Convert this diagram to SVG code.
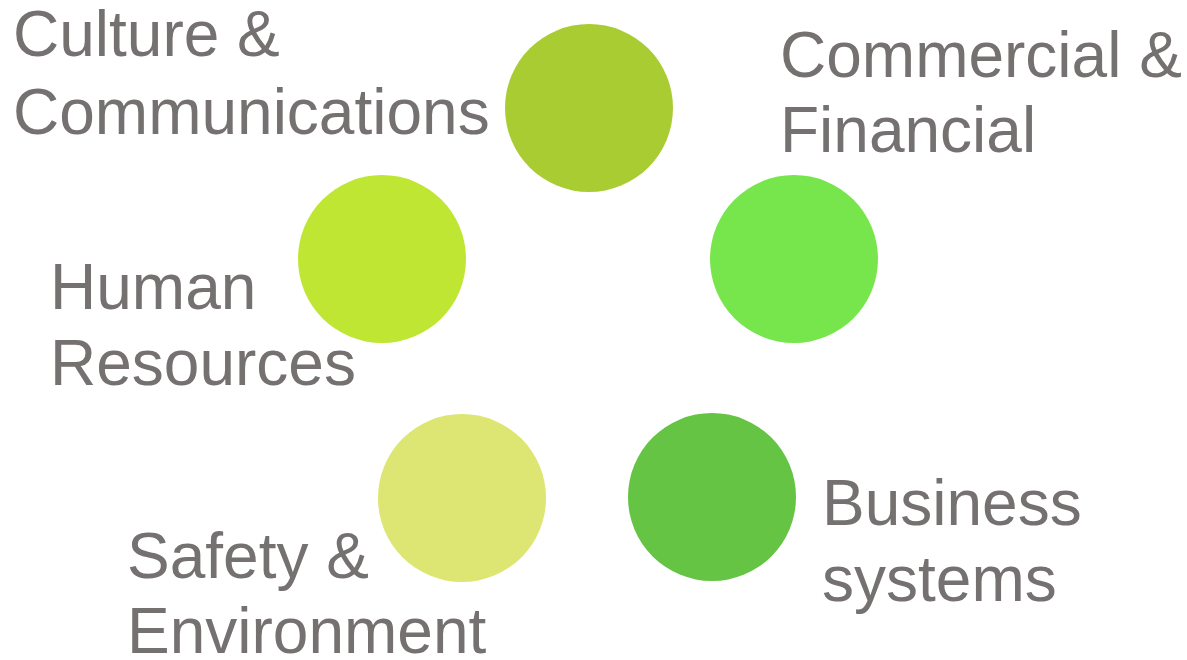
<svg xmlns="http://www.w3.org/2000/svg" width="1187" height="660" viewBox="0 0 1187 660">
<style>
.lbl{font-family:"Liberation Sans",Arial,sans-serif;font-size:64px;fill:#767171}
</style>
<rect width="1187" height="660" fill="#ffffff"/>
<g id="connectors"></g>
<g id="node-culture">
<circle cx="589" cy="108" r="84" fill="#AACC33"/>
<text class="lbl" x="13" y="56">Culture &amp;</text>
<text class="lbl" x="13" y="134">Communications</text>
</g>
<g id="node-commercial">
<circle cx="794" cy="259" r="84" fill="#77E64C"/>
<text class="lbl" x="780" y="77">Commercial &amp;</text>
<text class="lbl" x="780" y="152">Financial</text>
</g>
<g id="node-hr">
<circle cx="382" cy="259" r="84" fill="#BFE633"/>
<text class="lbl" x="50" y="309">Human</text>
<text class="lbl" x="50" y="385">Resources</text>
</g>
<g id="node-business">
<circle cx="712" cy="497" r="84" fill="#66C444"/>
<text class="lbl" x="822" y="525">Business</text>
<text class="lbl" x="822" y="601">systems</text>
</g>
<g id="node-safety">
<circle cx="462" cy="498" r="84" fill="#DDE673"/>
<text class="lbl" x="127" y="578">Safety &amp;</text>
<text class="lbl" x="127" y="653">Environment</text>
</g>
</svg>
